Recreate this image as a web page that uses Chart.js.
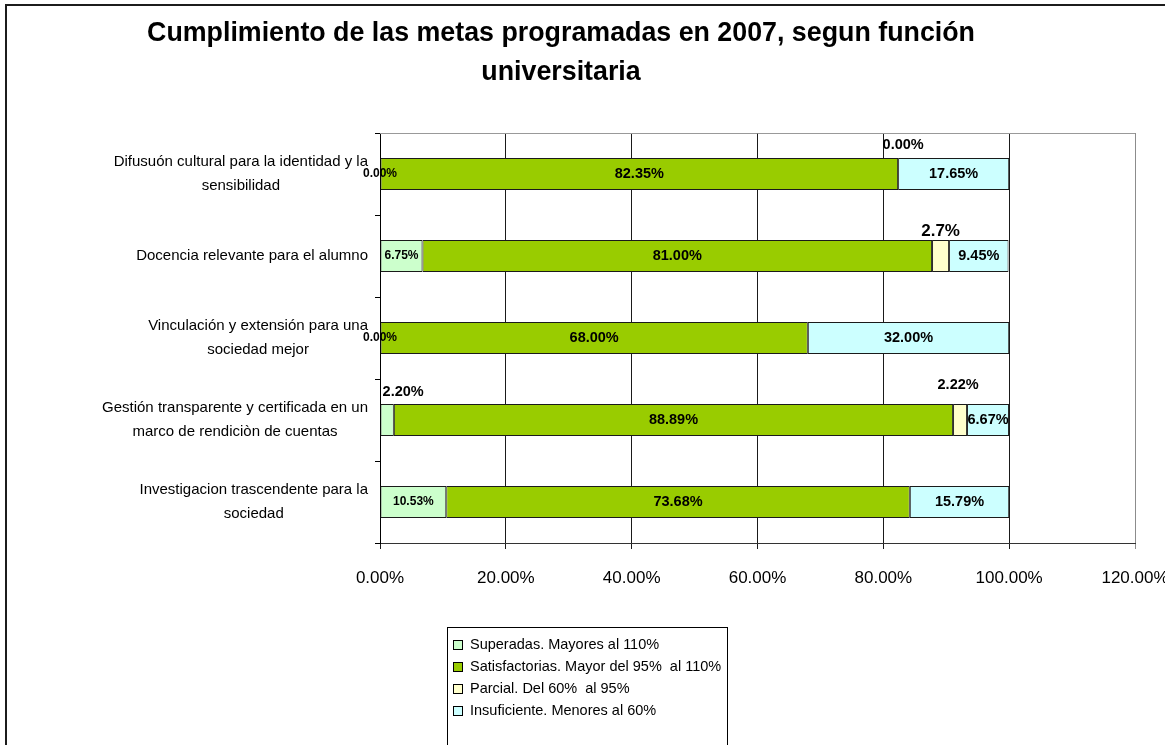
<!DOCTYPE html>
<html>
<head>
<meta charset="utf-8">
<script src="https://cdn.jsdelivr.net/npm/chart.js@4.4.0/dist/chart.umd.min.js"></script>
<style>
  html, body { margin: 0; padding: 0; background: #fff; }
  canvas { display: block; }
</style>
</head>
<body>
<canvas id="chart" width="1165" height="745"></canvas>
<script>
// categories, top to bottom
const categories = [
    ["Difusuón cultural para la identidad y la", "sensibilidad"],
    ["Docencia relevante para el alumno"],
    ["Vinculación y extensión para una", "sociedad mejor"],
    ["Gestión transparente y certificada en un", "marco de rendiciòn de cuentas"],
    ["Investigacion trascendente para la", "sociedad"]
];
const superadas = [0, 6.75, 0, 2.2, 10.53];
const satisfactorias = [82.35, 81, 68, 88.89, 73.68];
const parcial = [0, 2.7, null, 2.22, null];
const insuficiente = [17.65, 9.45, 32, 6.67, 15.79];
const seriesNames = [
    "Superadas. Mayores al 110%",
    "Satisfactorias. Mayor del 95%  al 110%",
    "Parcial. Del 60%  al 95%",
    "Insuficiente. Menores al 60%"
];
const xTicks = [0, 20, 40, 60, 80, 100, 120];
const titleLines = ["Cumplimiento de las metas programadas en 2007, segun función", "universitaria"];

const FONT = '"Liberation Sans", Arial, sans-serif';
Chart.defaults.font.family = FONT;
Chart.defaults.color = "#000";

// label styling
const labelSize = [12, 14.5, 14.5, 14.5];
// labels drawn outside the bar: "dataset-index": [dx, dy, size]
const liftedLabels = {
    "0-3": [16, -28, 14.5],
    "2-0": [5, -29, 14.5],
    "2-1": [0, -25, 17],
    "2-3": [-2, -35, 14.5]
};

function fmt(v) {
    if (v === 2.7) return "2.7%";
    return v.toFixed(2) + "%";
}

const barLabels = {
    id: "barLabels",
    afterDatasetsDraw(chart) {
        const ctx = chart.ctx;
        ctx.save();
        ctx.fillStyle = "#000";
        ctx.textAlign = "center";
        ctx.textBaseline = "middle";
        chart.data.datasets.forEach((ds, di) => {
            chart.getDatasetMeta(di).data.forEach((bar, i) => {
                const v = ds.data[i];
                if (v === null || v === undefined) return;
                const p = bar.getProps(["x", "y", "base"], true);
                let cx = (p.x + p.base) / 2;
                let cy = p.y;
                let size = labelSize[di];
                const lift = liftedLabels[di + "-" + i];
                if (lift) {
                    cx += lift[0];
                    cy += lift[1];
                    size = lift[2];
                }
                ctx.font = "bold " + size + "px " + FONT;
                ctx.fillText(fmt(v), cx, cy);
            });
        });
        ctx.restore();
    }
};

// frame, title, plot border, category labels and legend box
const decorations = {
    id: "decorations",
    beforeDatasetsDraw(chart) {
        const ctx = chart.ctx;
        const a = chart.chartArea;
        ctx.save();
        ctx.strokeStyle = "#999";
        ctx.lineWidth = 1;
        ctx.beginPath();
        ctx.moveTo(a.left, a.top + 0.5);
        ctx.lineTo(a.right, a.top + 0.5);
        ctx.stroke();
        ctx.restore();
    },
    afterDraw(chart) {
        const ctx = chart.ctx;
        ctx.save();
        // outer frame
        ctx.fillStyle = "#1c1c1c";
        ctx.fillRect(5, 4, 2, chart.height);
        ctx.fillRect(5, 4, chart.width, 2);

        // title
        ctx.fillStyle = "#000";
        ctx.textAlign = "center";
        ctx.textBaseline = "middle";
        ctx.font = "bold 26.8px " + FONT;
        titleLines.forEach((t, k) => ctx.fillText(t, 561, 34 + k * 39));

        // category labels, lines centred inside a right aligned block
        const ys = chart.scales.y;
        ctx.font = "15px " + FONT;
        categories.forEach((lines, i) => {
            const cy = ys.getPixelForValue(i);
            const w = Math.max(...lines.map(l => ctx.measureText(l).width));
            const cx = ys.right - 12 - w / 2;
            lines.forEach((l, k) => {
                ctx.fillText(l, cx, cy + (k - (lines.length - 1) / 2) * 24);
            });
        });

        // legend
        const lx = 447, ly = 627;
        ctx.strokeStyle = "#000";
        ctx.lineWidth = 1;
        ctx.strokeRect(lx + 0.5, ly + 0.5, 280, 140);
        ctx.font = "14.5px " + FONT;
        ctx.textAlign = "left";
        chart.data.datasets.forEach((ds, di) => {
            const y = ly + 18 + di * 22;
            ctx.fillStyle = ds.backgroundColor;
            ctx.fillRect(lx + 6, y - 5, 10, 10);
            ctx.strokeRect(lx + 6.5, y - 4.5, 9, 9);
            ctx.fillStyle = "#000";
            ctx.fillText(ds.label, lx + 23, y);
        });
        ctx.restore();
    }
};

const colors = ["#CCFFCC", "#99CC00", "#FFFFCC", "#CCFFFF"];
const seriesData = [superadas, satisfactorias, parcial, insuficiente];

new Chart(document.getElementById("chart"), {
    type: "bar",
    data: {
        labels: categories,
        datasets: seriesData.map((d, i) => ({
            label: seriesNames[i],
            data: d,
            backgroundColor: colors[i],
            borderColor: "#1a1a1a",
            borderWidth: 1,
            borderSkipped: false,
            categoryPercentage: 1,
            barPercentage: 0.39
        }))
    },
    options: {
        indexAxis: "y",
        responsive: false,
        animation: false,
        devicePixelRatio: 1,
        layout: { padding: { top: 133, right: 30, left: 0, bottom: 0 } },
        plugins: {
            legend: { display: false },
            tooltip: { enabled: false },
            title: { display: false }
        },
        scales: {
            x: {
                stacked: true,
                min: 0,
                max: 120,
                afterBuildTicks: (s) => { s.ticks = xTicks.map(v => ({ value: v })); },
                afterFit: (s) => {
                    s.height = 202;
                    // let the last tick label run off the edge like the original
                    s.paddingLeft = 0;
                    s.paddingRight = 0;
                },
                ticks: {
                    callback: (v) => Number(v).toFixed(2) + "%",
                    font: { size: 17 },
                    color: "#000",
                    padding: 19
                },
                grid: {
                    color: (c) => (c.tick && c.tick.value === 120 ? "#8c8c8c" : "#1a1a1a"),
                    tickLength: 6
                },
                border: { color: "#333" }
            },
            y: {
                stacked: true,
                afterFit: (s) => { s.width = 380; },
                ticks: { display: false },
                grid: { drawOnChartArea: false, tickLength: 5, color: "#000", offset: true },
                border: { color: "#000" }
            }
        }
    },
    plugins: [barLabels, decorations]
});
</script>
</body>
</html>
